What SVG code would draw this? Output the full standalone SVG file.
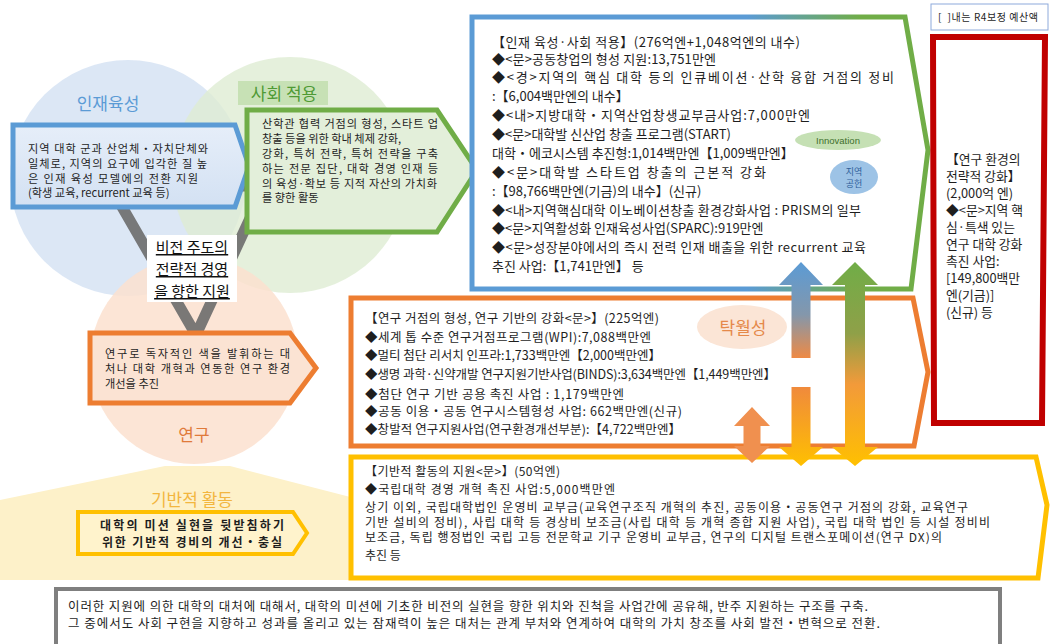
<svg xmlns="http://www.w3.org/2000/svg" width="1053" height="644" viewBox="0 0 1053 644">
<defs>
<style>
text { font-family: "Noto Sans CJK KR", "Noto Sans", sans-serif; fill: #1e1e1e; }
.s11 { font-size: 11.2px; }
.s12 { font-size: 12px; }
.s125 { font-size: 12.5px; }
.s13 { font-size: 13px; }
.red { font-size: 12.8px; }
.lbl { font-size: 17px; text-anchor: middle; }
.vis { font-size: 15px; text-anchor: middle; text-decoration: underline; fill: #111; }
.bold { font-weight: bold; }
</style>
<linearGradient id="gFrame" gradientUnits="userSpaceOnUse" x1="472" y1="0" x2="930" y2="0">
<stop offset="0" stop-color="#5b9bd5"/><stop offset="0.6" stop-color="#5b9bd5"/><stop offset="0.85" stop-color="#70ad47"/><stop offset="1" stop-color="#70ad47"/>
</linearGradient>
<linearGradient id="gBlueUp" gradientUnits="userSpaceOnUse" x1="0" y1="262" x2="0" y2="358">
<stop offset="0" stop-color="#5b9bd5"/><stop offset="0.55" stop-color="#8497ab"/><stop offset="1" stop-color="#ee8a45"/>
</linearGradient>
<linearGradient id="gDownA" gradientUnits="userSpaceOnUse" x1="0" y1="387" x2="0" y2="466">
<stop offset="0" stop-color="#f08a3c"/><stop offset="1" stop-color="#ffc000"/>
</linearGradient>
<linearGradient id="gGreen" gradientUnits="userSpaceOnUse" x1="0" y1="262" x2="0" y2="466">
<stop offset="0" stop-color="#70ad47"/><stop offset="0.35" stop-color="#8fa048"/><stop offset="0.6" stop-color="#f29a3a"/><stop offset="1" stop-color="#ffc000"/>
</linearGradient>
<linearGradient id="gBlueBox" x1="0" y1="0" x2="0" y2="1">
<stop offset="0" stop-color="#e6eef9"/><stop offset="1" stop-color="#d3e1f3"/>
</linearGradient>
</defs>
<rect x="0" y="0" width="1053" height="644" fill="#ffffff"/>

<g id="venn">
<polygon points="0,500 165,466 230,466 362,500 362,580 0,580" fill="#fdf1c9"/>
<circle cx="128" cy="178" r="118" fill="#d6e3f3" opacity="0.85"/>
<circle cx="290" cy="175" r="118" fill="#deecd3" opacity="0.8"/>
<circle cx="194" cy="360" r="104" fill="#fbe1cf" opacity="0.85"/>
</g>

<g id="connectors">
<path d="M110,186 L265,186 L196,335 Z" fill="none" stroke="#6b6b6b" stroke-width="11" stroke-linejoin="round" opacity="0.9"/>
</g>

<g id="node-jinjae">
<text class="lbl" x="108" y="110" style="fill:#5b9bd5">인재육성</text>
<polygon points="13,125 235,125 249,166 235,207 13,207" fill="url(#gBlueBox)" stroke="#5b9bd5" stroke-width="5"/>
<text class="s11" x="28" y="153" textLength="180" lengthAdjust="spacing">지역 대학 군과 산업체・자치단체와</text>
<text class="s11" x="28" y="168" textLength="179" lengthAdjust="spacing">일체로, 지역의 요구에 입각한 질 높</text>
<text class="s11" x="28" y="183" textLength="170" lengthAdjust="spacing">은 인재 육성 모델에의 전환 지원</text>
<text class="s11" x="28" y="197">(학생 교육, recurrent 교육 등)</text>
</g>

<g id="node-sahoe">
<rect x="238" y="81" width="90" height="24" fill="#c7e1b5"/>
<text class="lbl" x="284" y="100" style="fill:#4f9a35">사회 적용</text>
<polygon points="247,110 437,110 477,170 437,232 247,232" fill="#e3efda" stroke="#70ad47" stroke-width="5"/>
<text class="s11" x="262" y="128" textLength="176" lengthAdjust="spacing">산학관 협력 거점의 형성, 스타트 업</text>
<text class="s11" x="262" y="143">창출 등을 위한 학내 체제 강화,</text>
<text class="s11" x="262" y="158" textLength="176" lengthAdjust="spacing">강화, 특허 전략, 특허 전략을 구축</text>
<text class="s11" x="262" y="173" textLength="176" lengthAdjust="spacing">하는 전문 집단, 대학 경영 인재 등</text>
<text class="s11" x="262" y="188" textLength="175" lengthAdjust="spacing">의 육성·확보 등 지적 자산의 가치화</text>
<text class="s11" x="262" y="202">를 향한 활동</text>
</g>

<g id="node-vision">
<rect x="147" y="235" width="90" height="67" fill="#ffffff"/>
<text class="vis" x="192" y="253">비전 주도의</text>
<text class="vis" x="192" y="275">전략적 경영</text>
<text class="vis" x="192" y="297">을 향한 지원</text>
</g>

<g id="node-yeongu">
<polygon points="90,333 290,333 316,368 290,403 90,403" fill="#fbe3d3" stroke="#ed7d31" stroke-width="5"/>
<text class="s11" x="105" y="358" textLength="185" lengthAdjust="spacing">연구로 독자적인 색을 발휘하는 대</text>
<text class="s11" x="105" y="373" textLength="185" lengthAdjust="spacing">처나 대학 개혁과 연동한 연구 환경</text>
<text class="s11" x="105" y="388">개선을 추진</text>
<text class="lbl" x="194" y="441" style="fill:#e07a3a">연구</text>
</g>

<g id="node-gibanjeok">
<text class="lbl" x="192" y="506" style="fill:#f3b63f">기반적 활동</text>
<polygon points="78,512 293,512 307,533 293,554 78,554" fill="#fff3cc" stroke="#ffc000" stroke-width="4"/>
<text class="bold" x="192" y="530" text-anchor="middle" style="font-size:12px" textLength="184" lengthAdjust="spacing">대학의 미션 실현을 뒷받침하기</text>
<text class="bold" x="192" y="547" text-anchor="middle" style="font-size:12px" textLength="180" lengthAdjust="spacing">위한 기반적 경비의 개선・충실</text>
</g>

<g id="node-top-box">
<polygon points="472,17 905,17 928,150 911,289 472,289" fill="#ffffff" stroke="url(#gFrame)" stroke-width="5"/>
<text class="s13" x="492" y="47" textLength="308" lengthAdjust="spacing">【인재 육성·사회 적용】(276억엔+1,048억엔의 내수)</text>
<text class="s13" x="492" y="64" textLength="224" lengthAdjust="spacing">◆&lt;문&gt;공동창업의 형성 지원:13,751만엔</text>
<text class="s13" x="492" y="82" textLength="402" lengthAdjust="spacing">◆&lt;경&gt;지역의 핵심 대학 등의 인큐베이션·산학 융합 거점의 정비</text>
<text class="s13" x="492" y="101">:【6,004백만엔의 내수】</text>
<text class="s13" x="492" y="120" textLength="318" lengthAdjust="spacing">◆&lt;내&gt;지방대학・지역산업창생교부금사업:7,000만엔</text>
<text class="s13" x="492" y="139">◆&lt;문&gt;대학발 신산업 창출 프로그램(START)</text>
<text class="s13" x="492" y="158">대학・에코시스템 추진형:1,014백만엔【1,009백만엔】</text>
<text class="s13" x="492" y="177" textLength="274" lengthAdjust="spacing">◆&lt;문&gt;대학발 스타트업 창출의 근본적 강화</text>
<text class="s13" x="492" y="196">:【98,766백만엔(기금)의 내수】(신규)</text>
<text class="s13" x="492" y="215" textLength="369" lengthAdjust="spacing">◆&lt;내&gt;지역핵심대학 이노베이션창출 환경강화사업 : PRISM의 일부</text>
<text class="s13" x="492" y="233">◆&lt;문&gt;지역활성화 인재육성사업(SPARC):919만엔</text>
<text class="s13" x="492" y="252" textLength="374" lengthAdjust="spacing">◆&lt;문&gt;성장분야에서의 즉시 전력 인재 배출을 위한 recurrent 교육</text>
<text class="s13" x="492" y="271">추진 사업:【1,741만엔】 등</text>
</g>

<g id="node-innovation">
<ellipse cx="838" cy="140" rx="43" ry="10" fill="#c5e0b4"/>
<text x="838" y="143.5" text-anchor="middle" style="font-family:'Liberation Sans',sans-serif;font-size:9.5px;fill:#3f6f2c">Innovation</text>
</g>

<g id="node-jiyeok">
<ellipse cx="854" cy="177" rx="24" ry="17" fill="#9dc3e6"/>
<text x="854" y="175" text-anchor="middle" style="font-size:9px;fill:#2f5f9a">지역</text>
<text x="854" y="187" text-anchor="middle" style="font-size:9px;fill:#2f5f9a">공헌</text>
</g>

<g id="node-legend">
<rect x="931" y="4" width="117" height="26" fill="#ffffff" stroke="#8eaadb" stroke-width="1"/>
<text x="938" y="21" style="font-size:10px" textLength="100" lengthAdjust="spacing">[ &#160;]내는 R4보정 예산액</text>
</g>

<g id="node-red-box">
<polygon points="933,37 1045,37 1042,423 934,423" fill="#ffffff" stroke="#c00000" stroke-width="6"/>
<text class="red" x="946" y="164">【연구 환경의</text>
<text class="red" x="946" y="181">전략적 강화】</text>
<text class="red" x="946" y="198">(2,000억 엔)</text>
<text class="red" x="946" y="215">◆&lt;문&gt;지역 핵</text>
<text class="red" x="946" y="232">심·특색 있는</text>
<text class="red" x="946" y="249">연구 대학 강화</text>
<text class="red" x="946" y="266">촉진 사업:</text>
<text class="red" x="946" y="283">[149,800백만</text>
<text class="red" x="946" y="300">엔(기금)]</text>
<text class="red" x="946" y="317">(신규) 등</text>
</g>

<g id="node-orange-box">
<polygon points="351,298 913,298 928,372 914,446 351,446" fill="#ffffff" stroke="#ed7d31" stroke-width="5"/>
<text class="s125" x="365" y="323" textLength="294" lengthAdjust="spacing">【연구 거점의 형성, 연구 기반의 강화&lt;문&gt;】(225억엔)</text>
<text class="s125" x="365" y="342" textLength="286" lengthAdjust="spacing">◆세계 톱 수준 연구거점프로그램(WPI):7,088백만엔</text>
<text class="s125" x="365" y="360" textLength="296" lengthAdjust="spacing">◆멀티 첨단 리서치 인프라:1,733백만엔【2,000백만엔】</text>
<text class="s125" x="365" y="379" textLength="411" lengthAdjust="spacing">◆생명 과학·신약개발 연구지원기반사업(BINDS):3,634백만엔【1,449백만엔】</text>
<text class="s125" x="365" y="399" textLength="259" lengthAdjust="spacing">◆첨단 연구 기반 공용 촉진 사업 : 1,179백만엔</text>
<text class="s125" x="365" y="416" textLength="317" lengthAdjust="spacing">◆공동 이용・공동 연구시스템형성 사업: 662백만엔(신규)</text>
<text class="s125" x="365" y="434" textLength="316" lengthAdjust="spacing">◆창발적 연구지원사업(연구환경개선부분):【4,722백만엔】</text>
</g>

<g id="node-takwol">
<ellipse cx="742" cy="327" rx="45" ry="22" fill="#fbe5d6"/>
<text class="lbl" x="743" y="334" style="fill:#e5894a">탁월성</text>
</g>

<g id="node-yellow-box">
<polygon points="351,457 1036,457 1047,505 1038,578 351,578" fill="#ffffff" stroke="#ffc000" stroke-width="5"/>
<text class="s12" x="365" y="476" textLength="195" lengthAdjust="spacing">【기반적 활동의 지원&lt;문&gt;】(50억엔)</text>
<text class="s12" x="365" y="494" textLength="250" lengthAdjust="spacing">◆국립대학 경영 개혁 촉진 사업:5,000백만엔</text>
<text class="s12" x="365" y="512" textLength="603" lengthAdjust="spacing">상기 이외, 국립대학법인 운영비 교부금(교육연구조직 개혁의 추진, 공동이용・공동연구 거점의 강화, 교육연구</text>
<text class="s12" x="365" y="527" textLength="625" lengthAdjust="spacing">기반 설비의 정비), 사립 대학 등 경상비 보조금(사립 대학 등 개혁 종합 지원 사업), 국립 대학 법인 등 시설 정비비</text>
<text class="s12" x="365" y="542" textLength="577" lengthAdjust="spacing">보조금, 독립 행정법인 국립 고등 전문학교 기구 운영비 교부금, 연구의 디지털 트랜스포메이션(연구 DX)의</text>
<text class="s12" x="365" y="560">추진 등</text>
</g>

<g id="arrows">
<polygon points="801,262 823,285 810.5,285 810.5,358 791.5,358 791.5,285 779,285" fill="url(#gBlueUp)"/>
<polygon points="791.5,387 810.5,387 810.5,447 823,447 801,466 779,447 791.5,447" fill="url(#gDownA)"/>
<polygon points="855,262 878,285 865,285 865,447 878,447 855,466 832,447 845,447 845,285 832,285" fill="url(#gGreen)"/>
<polygon points="752,407 770,426 760.5,426 760.5,446 770,446 752,463 734,446 743.5,446 743.5,426 734,426" fill="#f0904f"/>
</g>

<g id="node-bottom-box">
<rect x="56" y="589" width="944" height="62" fill="#ffffff" stroke="#7f7f7f" stroke-width="4"/>
<text class="s125" x="68" y="611" textLength="800" lengthAdjust="spacing">이러한 지원에 의한 대학의 대처에 대해서, 대학의 미션에 기초한 비전의 실현을 향한 위치와 진척을 사업간에 공유해, 반주 지원하는 구조를 구축.</text>
<text class="s125" x="68" y="628" textLength="812" lengthAdjust="spacing">그 중에서도 사회 구현을 지향하고 성과를 올리고 있는 잠재력이 높은 대처는 관계 부처와 연계하여 대학의 가치 창조를 사회 발전・변혁으로 전환.</text>
</g>
</svg>
